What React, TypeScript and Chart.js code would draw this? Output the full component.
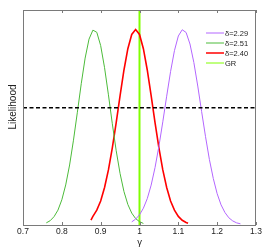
import React, { useEffect, useRef } from "react";
import { Chart, registerables } from "chart.js";
Chart.register(...registerables);

// ---- data ----
const xTicks = [0.7, 0.8, 0.9, 1.0, 1.1, 1.2, 1.3];

const gammaPurple = [0.98, 0.99, 1.0, 1.01, 1.02, 1.03, 1.04, 1.05, 1.06, 1.07, 1.08, 1.09, 1.1, 1.11, 1.12, 1.13, 1.14, 1.15, 1.16, 1.17, 1.18, 1.19, 1.2, 1.21, 1.22, 1.23, 1.24, 1.25, 1.26];
const likePurple = [0.016, 0.03, 0.052, 0.086, 0.135, 0.204, 0.294, 0.403, 0.528, 0.659, 0.785, 0.892, 0.967, 0.999, 0.985, 0.926, 0.831, 0.711, 0.58, 0.452, 0.335, 0.238, 0.16, 0.103, 0.064, 0.037, 0.021, 0.011, 0.006];

const gammaGreen = [0.76, 0.77, 0.78, 0.79, 0.8, 0.81, 0.82, 0.83, 0.84, 0.85, 0.86, 0.87, 0.88, 0.89, 0.9, 0.91, 0.92, 0.93, 0.94, 0.95, 0.96, 0.97, 0.98, 0.99, 1.0, 1.01];
const likeGreen = [0.011, 0.022, 0.043, 0.076, 0.129, 0.205, 0.307, 0.434, 0.577, 0.723, 0.854, 0.951, 0.997, 0.986, 0.918, 0.805, 0.666, 0.518, 0.38, 0.263, 0.171, 0.105, 0.061, 0.033, 0.017, 0.008];

const gammaRed = [0.875, 0.88, 0.89, 0.9, 0.91, 0.92, 0.93, 0.94, 0.95, 0.96, 0.97, 0.98, 0.99, 1.0, 1.01, 1.02, 1.03, 1.04, 1.05, 1.06, 1.07, 1.08, 1.09, 1.1, 1.11, 1.12, 1.125];
const likeRed = [0.025, 0.044, 0.076, 0.123, 0.192, 0.282, 0.395, 0.524, 0.662, 0.793, 0.902, 0.975, 1.0, 0.975, 0.902, 0.793, 0.662, 0.524, 0.395, 0.282, 0.192, 0.123, 0.076, 0.044, 0.024, 0.013, 0.009];

const grGamma = [1.0, 1.0];
const grLike = [0, 1.1];

const dashGamma = [0.7, 1.3];
const dashLike = [0.6, 0.6];

const legendLabels = ["δ=2.29", "δ=2.51", "δ=2.40", "GR"];

const PURPLE = "#b366ff";
const GREEN = "#4cbb3a";
const RED = "#ff0000";
const LIME = "#80ff00";
const legendColors = [PURPLE, GREEN, RED, LIME];
const legendWidths = [1, 1, 1.5, 1];

const FONT = "'Liberation Sans', Arial, Helvetica, sans-serif";

const pts = (xs: number[], ys: number[]) => xs.map((x, i) => ({ x, y: ys[i] }));

const framePlugin = {
  id: "frame",
  afterDraw(chart: any) {
    const { ctx, chartArea } = chart;
    const { left, right, top, bottom } = chartArea;
    const xs = chart.scales.x;
    ctx.save();
    ctx.strokeStyle = "#7a7a7a";
    ctx.lineWidth = 1;
    ctx.strokeRect(left + 0.5, top + 0.5, right - left - 1, bottom - top);
    ctx.beginPath();
    xTicks.forEach((t) => {
      const px = Math.round(xs.getPixelForValue(t)) + 0.5;
      ctx.moveTo(px, bottom);
      ctx.lineTo(px, bottom - 3);
      ctx.moveTo(px, top);
      ctx.lineTo(px, top + 3);
    });
    ctx.stroke();

    // legend
    ctx.font = `7.5px ${FONT}`;
    ctx.textBaseline = "middle";
    ctx.textAlign = "left";
    legendLabels.forEach((lab, i) => {
      const y = top + 23 + i * 10;
      ctx.strokeStyle = legendColors[i];
      ctx.lineWidth = legendWidths[i];
      ctx.beginPath();
      ctx.moveTo(right - 50, y);
      ctx.lineTo(right - 32, y);
      ctx.stroke();
      ctx.fillStyle = "#222";
      ctx.fillText(lab, right - 31, y + 0.5);
    });

    // y label
    ctx.save();
    ctx.translate(13, 107);
    ctx.rotate(-Math.PI / 2);
    ctx.font = `10px ${FONT}`;
    ctx.textAlign = "center";
    ctx.textBaseline = "middle";
    ctx.fillStyle = "#222";
    ctx.fillText("Likelihood", 0, 0);
    ctx.restore();
    ctx.restore();
  },
};

export default function App() {
  const ref = useRef<HTMLCanvasElement>(null);
  useEffect(() => {
    document.body.style.margin = "0";
    const chart = new Chart(ref.current!, {
      type: "line",
      data: {
        datasets: [
          { data: pts(dashGamma, dashLike), borderColor: "#000", borderWidth: 1.5, borderDash: [4, 2.5] },
          { data: pts(gammaPurple, likePurple), borderColor: PURPLE, borderWidth: 1 },
          { data: pts(gammaGreen, likeGreen), borderColor: GREEN, borderWidth: 1 },
          { data: pts(gammaRed, likeRed), borderColor: RED, borderWidth: 1.6 },
          { data: pts(grGamma, grLike), borderColor: LIME, borderWidth: 2 },
        ] as any,
      },
      options: {
        animation: false,
        responsive: false,
        devicePixelRatio: 1,
        layout: { padding: { top: 10, right: 18, left: 0, bottom: 0 } },
        elements: { point: { radius: 0 }, line: { tension: 0 } },
        plugins: { legend: { display: false }, tooltip: { enabled: false } },
        scales: {
          x: {
            type: "linear",
            min: 0.7,
            max: 1.3,
            grid: { display: false, drawTicks: false, tickLength: 0 },
            border: { display: false },
            afterBuildTicks: (s: any) => {
              s.ticks = xTicks.map((v) => ({ value: v }));
            },
            afterFit: (s: any) => {
              s.height = 24;
            },
            ticks: {
              padding: 2,
              color: "#222",
              font: { size: 8.5, family: FONT },
              callback: (v: any) => String(Number(Number(v).toFixed(1))),
            },
            title: {
              display: true,
              text: "γ",
              color: "#222",
              font: { size: 9.5, family: FONT },
              padding: { top: 0, bottom: 1 },
            },
          },
          y: {
            type: "linear",
            min: 0,
            max: 1.1,
            grid: { display: false, drawTicks: false },
            border: { display: false },
            ticks: { display: false },
            afterFit: (s: any) => {
              s.width = 23;
            },
          },
        },
      },
      plugins: [framePlugin],
    } as any);
    return () => chart.destroy();
  }, []);
  return (
    <div style={{ width: 274, height: 249 }}>
      <canvas ref={ref} width={274} height={249} style={{ background: "#fff" }} />
    </div>
  );
}
